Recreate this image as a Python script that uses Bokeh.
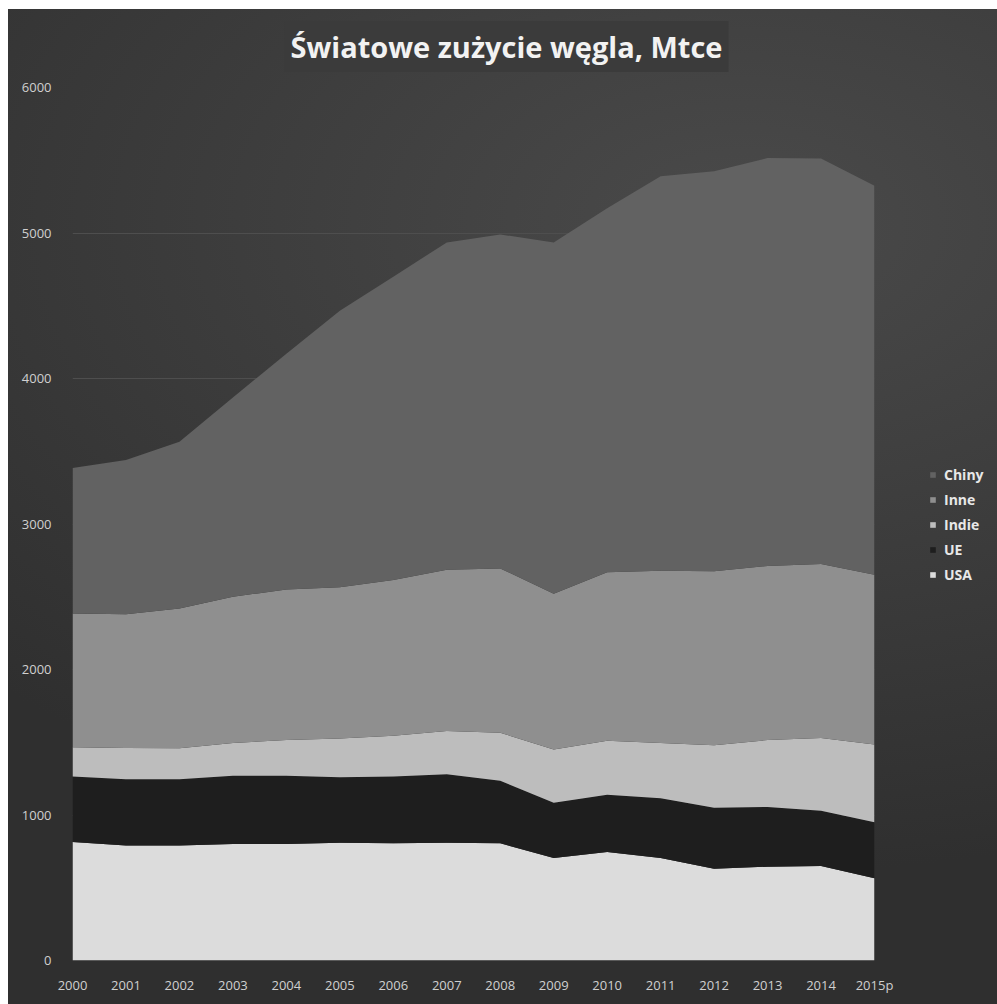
from bokeh.plotting import figure
from bokeh.models import ColumnDataSource, FixedTicker, Legend, LegendItem
from bokeh.embed import file_html
from bokeh.resources import INLINE

years = list(range(2000, 2016))
tick_labels = ["2000", "2001", "2002", "2003", "2004", "2005", "2006", "2007",
               "2008", "2009", "2010", "2011", "2012", "2013", "2014", "2015p"]
y_ticks = [0, 1000, 2000, 3000, 4000, 5000, 6000]
title_text = "Światowe zużycie węgla, Mtce"

# Mtce (bottom to top of the stack)
usa = [815, 790, 790, 800, 800, 810, 805, 810, 805, 705, 745, 705, 630, 645, 650, 565]
ue = [450, 455, 455, 470, 470, 450, 460, 470, 430, 380, 395, 410, 420, 410, 380, 385]
indie = [200, 215, 213, 225, 245, 265, 280, 298, 330, 365, 370, 380, 430, 460, 500, 535]
inne = [920, 920, 962, 1005, 1035, 1040, 1070, 1107, 1130, 1070, 1158, 1183, 1195, 1197, 1195, 1167]
chiny = [1000, 1060, 1145, 1370, 1620, 1900, 2085, 2250, 2295, 2415, 2502, 2712, 2750, 2803, 2787, 2673]

names = ["USA", "UE", "Indie", "Inne", "Chiny"]
colors = ["#dcdcdc", "#1e1e1e", "#bdbdbd", "#8f8f8f", "#626262"]

src = ColumnDataSource(dict(year=years, USA=usa, UE=ue, Indie=indie, Inne=inne, Chiny=chiny))

p = figure(frame_width=802, frame_height=873, x_range=(2000, 2015), y_range=(0, 6000),
           output_backend="svg", toolbar_location=None,
           min_border_left=64, min_border_right=110, min_border_top=0, min_border_bottom=44)

p.styles = {"margin-left": "8px", "margin-top": "3px",
            "background": ("linear-gradient(#ffffff 0px, #ffffff 6px, transparent 6px), "
                           "radial-gradient(ellipse 75% 65% at 52% 22%, #4a4a4a 0%, #3b3b3b 55%, #2f2f2f 100%)")}
p.background_fill_alpha = 0
p.border_fill_alpha = 0
p.outline_line_color = None

rs = p.varea_stack(stackers=names, x="year", color=colors, source=src)

items = [LegendItem(label=n, renderers=[r]) for n, r in zip(names, rs)]
items.reverse()
legend = Legend(items=items, location=(55, 376), glyph_width=7, glyph_height=7,
                label_standoff=8, spacing=6, label_height=18, padding=0, margin=0,
                background_fill_alpha=0, border_line_alpha=0,
                label_text_font="Open Sans", label_text_font_style="bold",
                label_text_font_size="14px", label_text_color="#e8e8e8")
p.add_layout(legend, "right")

p.title.text = title_text
p.title.text_font = "Open Sans"
p.title.text_font_style = "bold"
p.title.text_font_size = "29px"
p.title.text_color = "#f2f2f2"
p.title.align = "left"
p.title.offset = 212
p.title.standoff = 31
p.title.background_fill_color = "#3b3b3b"
p.title.padding = 6

p.xaxis.ticker = FixedTicker(ticks=years)
p.xaxis.major_label_overrides = {y: l for y, l in zip(years, tick_labels)}
p.yaxis.ticker = FixedTicker(ticks=y_ticks)
for ax in (p.xaxis, p.yaxis):
    ax.axis_line_color = None
    ax.major_tick_line_color = None
    ax.minor_tick_line_color = None
    ax.major_label_text_font = "Open Sans"
    ax.major_label_text_font_size = "13px"
    ax.major_label_text_color = "#d0d0d0"
p.yaxis.major_label_standoff = 15
p.xaxis.major_label_standoff = 9

p.xgrid.grid_line_color = None
p.ygrid.grid_line_color = "#4e4e4e"
p.ygrid.grid_line_width = 1

open("out.html", "w").write(file_html(p, INLINE))
